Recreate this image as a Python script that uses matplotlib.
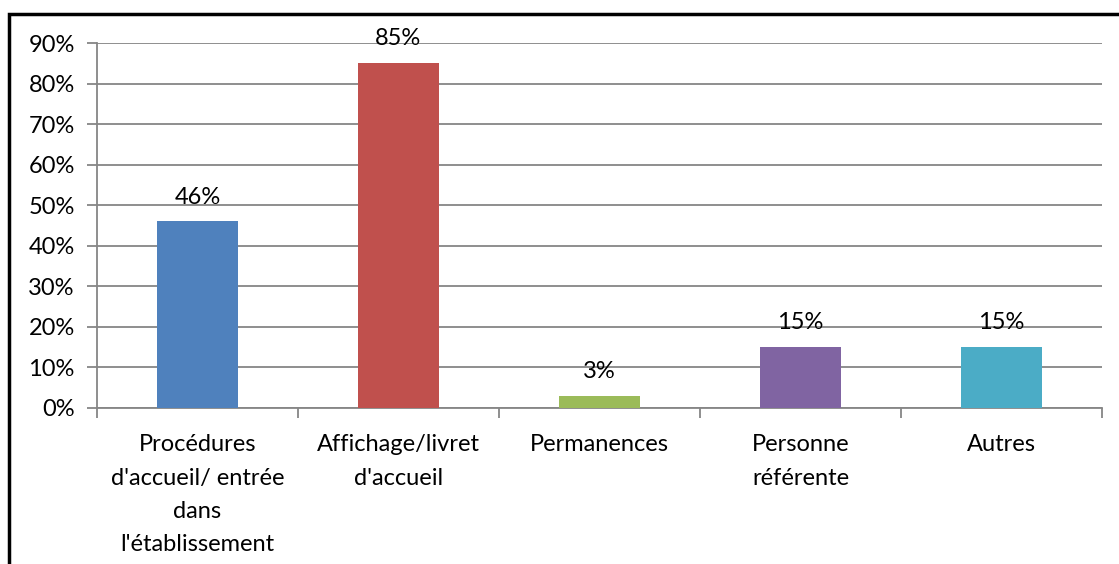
import numpy as np
import matplotlib.pyplot as plt
from matplotlib.patches import Rectangle

# Data
categories = ["Procédures\nd'accueil/ entrée\ndans\nl'établissement",
              "Affichage/livret\nd'accueil",
              "Permanences",
              "Personne\nréférente",
              "Autres"]
values = [46, 85, 3, 15, 15]
colors = ['#4F81BD', '#C0504D', '#9BBB59', '#8064A2', '#4BACC6']
yticks = [0, 10, 20, 30, 40, 50, 60, 70, 80, 90]

plt.rcParams['font.family'] = ['Lato', 'DejaVu Sans']
fs = 17

fig = plt.figure(figsize=(11.19, 5.64), dpi=100)
ax = fig.add_axes([97 / 1119, 1 - 408 / 564, (1102 - 97) / 1119, (408 - 43) / 564])

x = np.arange(len(categories))
bars = ax.bar(x, values, width=0.4, color=colors, zorder=3)

for xi, v in zip(x, values):
    ax.annotate(f'{v}%', (xi, v), xytext=(0, 10), textcoords='offset points',
                ha='center', va='bottom', fontsize=fs)

ax.set_xlim(-0.5, len(categories) - 0.5)
ax.set_ylim(0, 90)
ax.set_yticks(yticks)
ax.set_yticklabels([f'{t}%' for t in yticks], fontsize=fs)
ax.yaxis.grid(True, color='#868686', linewidth=1.3, zorder=0)

# category labels centred, ticks at category boundaries
ax.set_xticks(x)
ax.set_xticklabels(categories, fontsize=fs, linespacing=1.72)
ax.tick_params(axis='x', length=0, pad=19)
ax.set_xticks(np.arange(-0.5, len(categories)), minor=True)
ax.tick_params(axis='x', which='minor', length=7, width=1.3, color='#868686')
ax.tick_params(axis='y', length=7, width=1.3, color='#868686', pad=9)

for side in ['top', 'right']:
    ax.spines[side].set_visible(False)
for side in ['left', 'bottom']:
    ax.spines[side].set_color('#868686')
    ax.spines[side].set_linewidth(1.3)

# outer frame (left and top edges visible, as in the reference)
fig.add_artist(Rectangle((9 / 1119, -0.1), 1.2, 1.1 - 14 / 564, transform=fig.transFigure,
                         fill=False, edgecolor='black', linewidth=2.5))

fig.savefig('out.png', dpi=100)
